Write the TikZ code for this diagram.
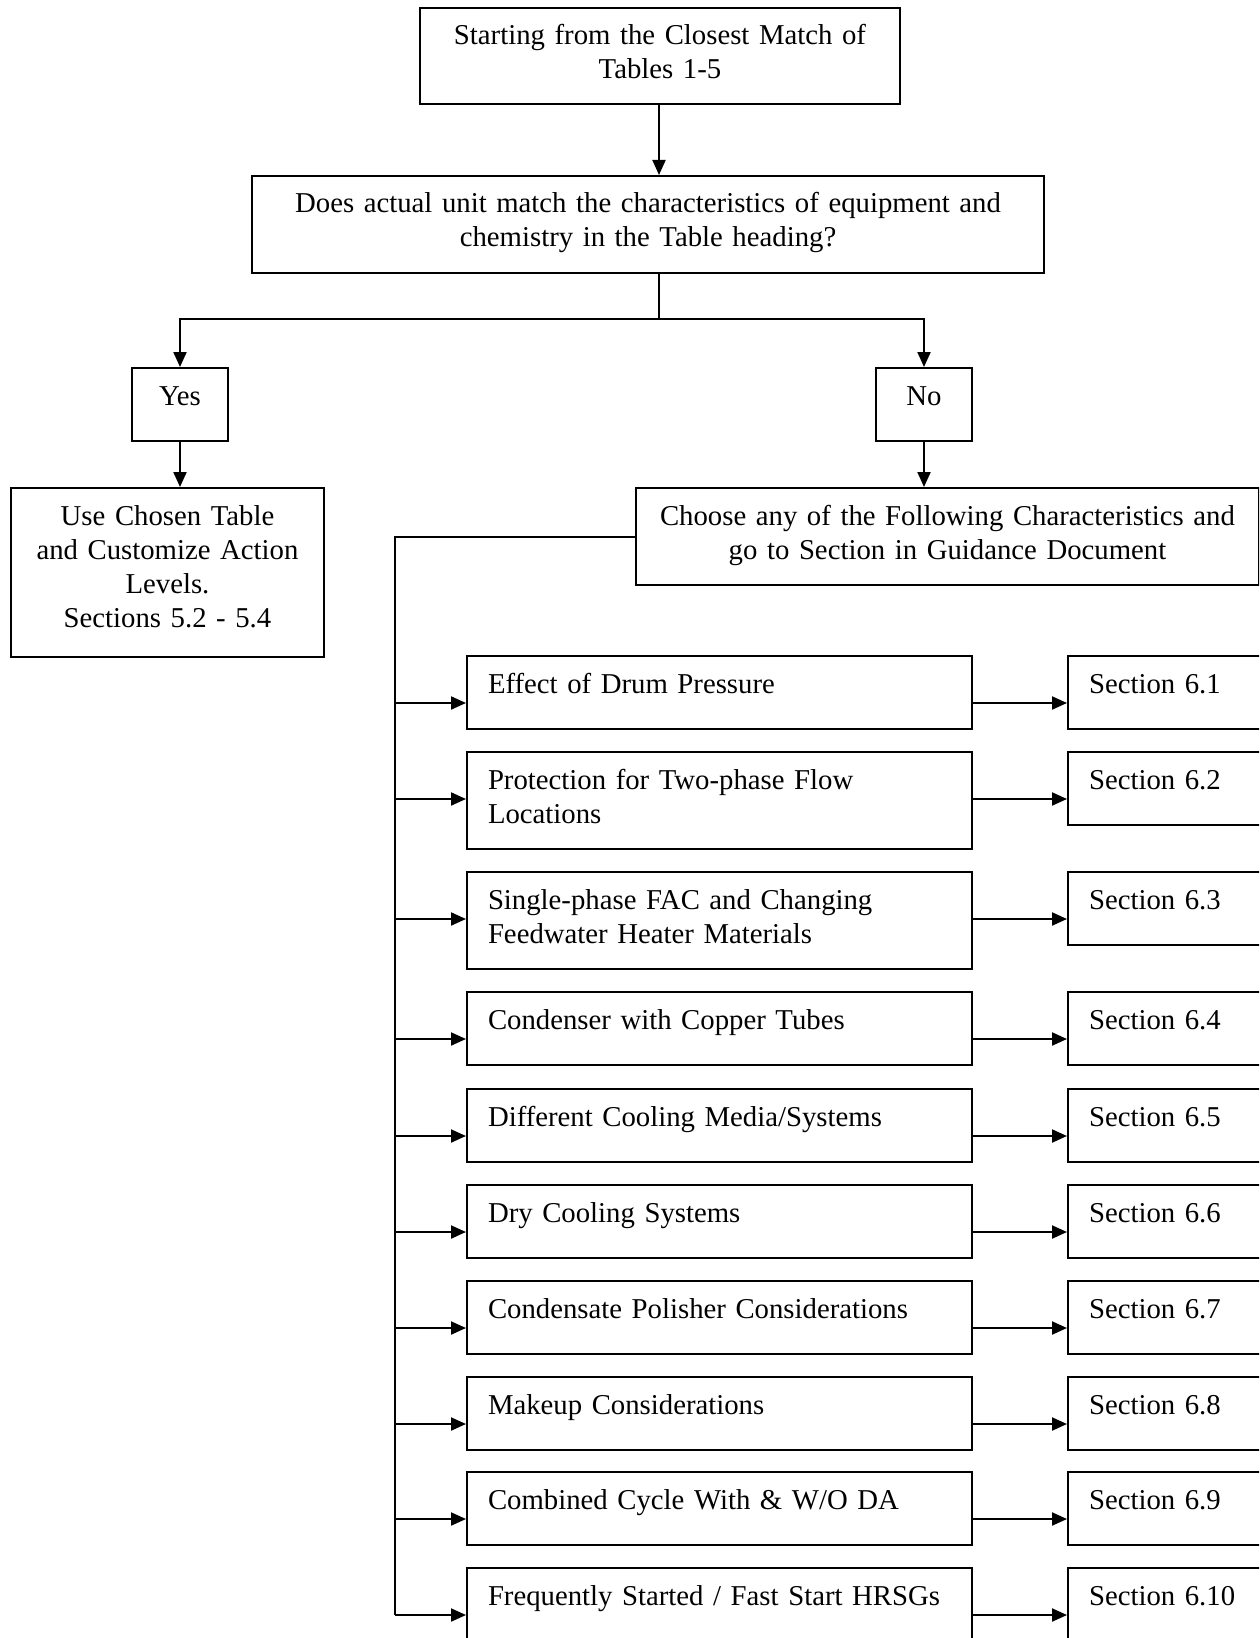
\documentclass[tikz,border=0pt]{standalone}
\usepackage{fontspec}
\setmainfont{Liberation Serif}
\usetikzlibrary{arrows.meta}
\begin{document}
\begin{tikzpicture}[x=0.4pt,y=-0.4pt,line width=0.8pt,
  >={Triangle[length=6pt,width=5.2pt]},
  box/.style={draw,anchor=north west,inner ysep=0pt,text height=14.8pt,
    font=\fontsize{11.5}{13.6}\selectfont},
  cbox/.style={box,align=center,inner xsep=4pt},
  lbox/.style={box,align=left,inner xsep=8.4pt,text width=185.2pt,text depth=14.4pt},
  sbox/.style={box,align=left,inner xsep=8.4pt,text width=63.2pt,text depth=14.4pt}]
\useasboundingbox (0,0) rectangle (1259,1638);
\clip (0,0) rectangle (1259,1638);
% top of the chart
\node[cbox,text width=184pt,text depth=23.6pt] (start) at (419,7)
  {Starting from the Closest Match of\\Tables 1-5};
\node[cbox,text width=308.8pt,text depth=24pt] (match) at (251,175)
  {Does actual unit match the characteristics of equipment and\\chemistry in the Table heading?};
\node[cbox,text width=30.4pt,text depth=14.4pt] (yes) at (131,367) {Yes};
\node[cbox,text width=30.4pt,text depth=14.4pt] (no) at (875,367) {No};
\node[cbox,text width=117.2pt,text depth=52.8pt] (use) at (10,487)
  {Use Chosen Table\\and Customize Action\\Levels.\\Sections 5.2 - 5.4};
\node[cbox,text width=241.2pt,text depth=24pt] (choose) at (635,487)
  {Choose any of the Following Characteristics and\\go to Section in Guidance Document};
\coordinate (j) at (659,319);
\draw[->] (start.south -| j) -- (match.north -| j);
\draw (match.south -| j) -- (j);
\draw[->] (j) -| (yes);
\draw[->] (j) -| (no);
\draw[->] (yes) -- (yes.south |- use.north);
\draw[->] (no) -- (no.south |- choose.north);
% characteristics
\node[lbox] (c1) at (466,655) {Effect of Drum Pressure};
\node[lbox,text depth=24pt] (c2) at (466,751) {Protection for Two-phase Flow\\Locations};
\node[lbox,text depth=24pt] (c3) at (466,871) {Single-phase FAC and Changing\\Feedwater Heater Materials};
\node[lbox] (c4) at (466,991) {Condenser with Copper Tubes};
\node[lbox] (c5) at (466,1088) {Different Cooling Media/Systems};
\node[lbox] (c6) at (466,1184) {Dry Cooling Systems};
\node[lbox] (c7) at (466,1280) {Condensate Polisher Considerations};
\node[lbox] (c8) at (466,1376) {Makeup Considerations};
\node[lbox] (c9) at (466,1471) {Combined Cycle With \& W/O DA};
\node[lbox] (c10) at (466,1567) {Frequently Started / Fast Start HRSGs};
% sections
\node[sbox] (s1) at (1067,655) {Section 6.1};
\node[sbox] (s2) at (1067,751) {Section 6.2};
\node[sbox] (s3) at (1067,871) {Section 6.3};
\node[sbox] (s4) at (1067,991) {Section 6.4};
\node[sbox] (s5) at (1067,1088) {Section 6.5};
\node[sbox] (s6) at (1067,1184) {Section 6.6};
\node[sbox] (s7) at (1067,1280) {Section 6.7};
\node[sbox] (s8) at (1067,1376) {Section 6.8};
\node[sbox] (s9) at (1067,1471) {Section 6.9};
\node[sbox] (s10) at (1067,1567) {Section 6.10};
% bus and arrows
\coordinate (r1) at (395,703);
\coordinate (r2) at (395,799);
\coordinate (r3) at (395,919);
\coordinate (r4) at (395,1039);
\coordinate (r5) at (395,1136);
\coordinate (r6) at (395,1232);
\coordinate (r7) at (395,1328);
\coordinate (r8) at (395,1424);
\coordinate (r9) at (395,1519);
\coordinate (r10) at (395,1615);
\draw (choose.west) -| (r10);
\foreach \i in {1,...,10}{
  \draw[->] (r\i) -- (r\i -| c\i.west);
  \draw[->] (r\i -| c\i.east) -- (r\i -| s\i.west);
}
\end{tikzpicture}
\end{document}
